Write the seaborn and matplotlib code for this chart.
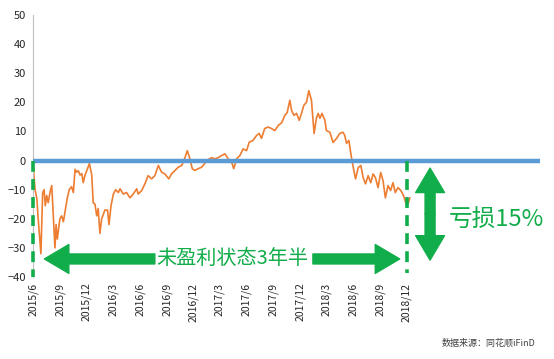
import matplotlib
matplotlib.use("Agg")
import matplotlib.pyplot as plt
import seaborn as sns
import pandas as pd

# --- data ---
# days since 2015-06-01 and cumulative return (%)
start_date = "2015-06-01"
day_offsets = [0, 3, 7, 13, 17, 24, 27, 33, 38, 42, 47, 52, 58, 64, 69, 75, 79, 83, 92, 98,
               104, 109, 117, 124, 132, 138, 144, 149, 155, 161, 167, 172, 178, 184, 193, 201,
               206, 212, 218, 223, 229, 235, 246, 255, 260, 267, 275, 283, 292, 298, 309, 320,
               332, 343, 355, 360, 372, 383, 394, 406, 417, 429, 440, 451, 465, 474, 486, 497,
               509, 520, 528, 537, 545, 554, 565, 577, 588, 594, 611, 622, 634, 645, 657, 668,
               680, 687, 697, 708, 719, 731, 740, 753, 765, 774, 782, 793, 805, 816, 828, 839,
               851, 862, 870, 879, 885, 893, 902, 911, 919, 927, 936, 944, 953, 962, 970, 976,
               982, 989, 999, 1004, 1016, 1027, 1039, 1050, 1061, 1067, 1073, 1081, 1090, 1098,
               1104, 1113, 1122, 1130, 1138, 1147, 1156, 1164, 1172, 1181, 1190, 1198, 1206,
               1215, 1224, 1232, 1240, 1249, 1259, 1268, 1276, 1284, 1290]
returns = [0, -5, -10, -13, -19, -28, -32, -11, -10, -15.5, -12, -14.5, -11, -8.6, -18, -30,
           -22, -27, -20, -19, -21, -18, -13, -10, -9, -11, -3, -4, -3.5, -5, -4.5, -7.6, -5,
           -3.5, -1, -5, -14.5, -15, -19, -16.5, -25, -20, -17, -17, -22, -15.5, -11.5, -10,
           -11, -9.7, -11.5, -11, -12.8, -11.5, -9.7, -11.5, -10.3, -8, -5.2, -6.3, -5.2,
           -1.7, -4, -4.6, -6.3, -4.6, -3.4, -2.3, -1.7, 1, 3.4, 0.6, -2.8, -3.4, -2.8, -2.3,
           -1, 0, 1, 0.6, 1, 1.7, 2.3, 0.6, -0.6, -2.8, 0.6, 1.7, 4, 3.4, 6.3, 6.9, 8.6, 9.3,
           7.6, 11, 11.5, 11, 10.3, 12, 13, 15.5, 16.5, 20.7, 17.2, 15.5, 16.2, 13.8, 16.2, 19,
           20, 24, 20.7, 9.3, 14.5, 16.2, 14.5, 16.2, 13.8, 10.3, 9.7, 6.2, 7.6, 9.3, 9.7, 8.6,
           5.9, 6.9, 1, -3.4, -6.3, -2.4, -1.7, -5.9, -8, -5.2, -7.6, -4.6, -5.9, -9.3, -4.1,
           -6.9, -12.8, -8.6, -10.3, -7.6, -11, -9.3, -10.3, -12, -14.5, -14.8, -12.8]

tick_dates = pd.date_range("2015-06-01", "2018-12-01", freq="3MS")
tick_labels = [f"{d.year}/{d.month}" for d in tick_dates]

df = pd.DataFrame({
    "date": pd.Timestamp(start_date) + pd.to_timedelta(day_offsets, unit="D"),
    "ret": returns,
})

sns.set_style("white")
plt.rcParams["font.family"] = ["Noto Sans CJK SC", "DejaVu Sans"]

green = "#12ad4b"
fig = plt.figure(figsize=(5.54, 3.59), dpi=100)
ax = fig.add_axes([0.0596, 0.2284, 0.915, 0.730])

sns.lineplot(data=df, x="date", y="ret", ax=ax, color="#ed7d31", linewidth=1.2)
ax.axhline(0, color="#5b9bd5", linewidth=3.2, zorder=3)

ax.set_xlim(pd.Timestamp("2015-06-01"), pd.Timestamp("2020-03-01"))
ax.set_ylim(-40, 50)
ax.set_yticks(range(-40, 51, 10))
ax.set_xticks(tick_dates)
ax.set_xticklabels(tick_labels, rotation=90, fontsize=7.5)
ax.tick_params(axis="y", labelsize=8, length=3, color="#bfbfbf", pad=2)
ax.tick_params(axis="x", length=0, pad=4)
ax.set_xlabel("")
ax.set_ylabel("")
for s in ["top", "right", "bottom"]:
    ax.spines[s].set_visible(False)
ax.spines["left"].set_color("#bfbfbf")
ax.spines["left"].set_linewidth(0.8)

# dashed markers: start and end of the losing period
start = pd.Timestamp("2015-06-01")
end = pd.Timestamp("2018-12-01")
ax.plot([start, start], [0, -40], color=green, linewidth=2.6, linestyle=(0, (3, 2)), zorder=4, clip_on=False)
ax.plot([end, end], [0, -38.5], color=green, linewidth=2.6, linestyle=(0, (3, 2)), zorder=4)

arrow = dict(arrowstyle="simple,head_length=1.1,head_width=1.3,tail_width=0.45",
             color=green, mutation_scale=16, shrinkA=0, shrinkB=0)
ax.annotate("", xy=(pd.Timestamp("2015-07-10"), -33.8), xytext=(pd.Timestamp("2016-07-22"), -33.8),
            arrowprops=arrow)
ax.annotate("", xy=(pd.Timestamp("2018-11-07"), -33.8), xytext=(pd.Timestamp("2018-01-14"), -33.8),
            arrowprops=arrow)
ax.text(pd.Timestamp("2017-04-12"), -33.8, "未盈利状态3年半", color=green, fontsize=14.5,
        ha="center", va="center")

# double arrow for the loss
mid = -18.3
ax.annotate("", xy=(pd.Timestamp("2019-02-19"), -2.6), xytext=(pd.Timestamp("2019-02-19"), mid),
            arrowprops=arrow)
ax.annotate("", xy=(pd.Timestamp("2019-02-19"), -34.2), xytext=(pd.Timestamp("2019-02-19"), mid),
            arrowprops=arrow)
ax.text(pd.Timestamp("2019-04-25"), -20.7, "亏损15%", color=green, fontsize=17,
        ha="left", va="center")

fig.text(0.966, 0.045, "数据来源：同花顺iFinD", fontsize=6.5, color="#404040", ha="right", va="center")

fig.savefig("out.png", dpi=100)
